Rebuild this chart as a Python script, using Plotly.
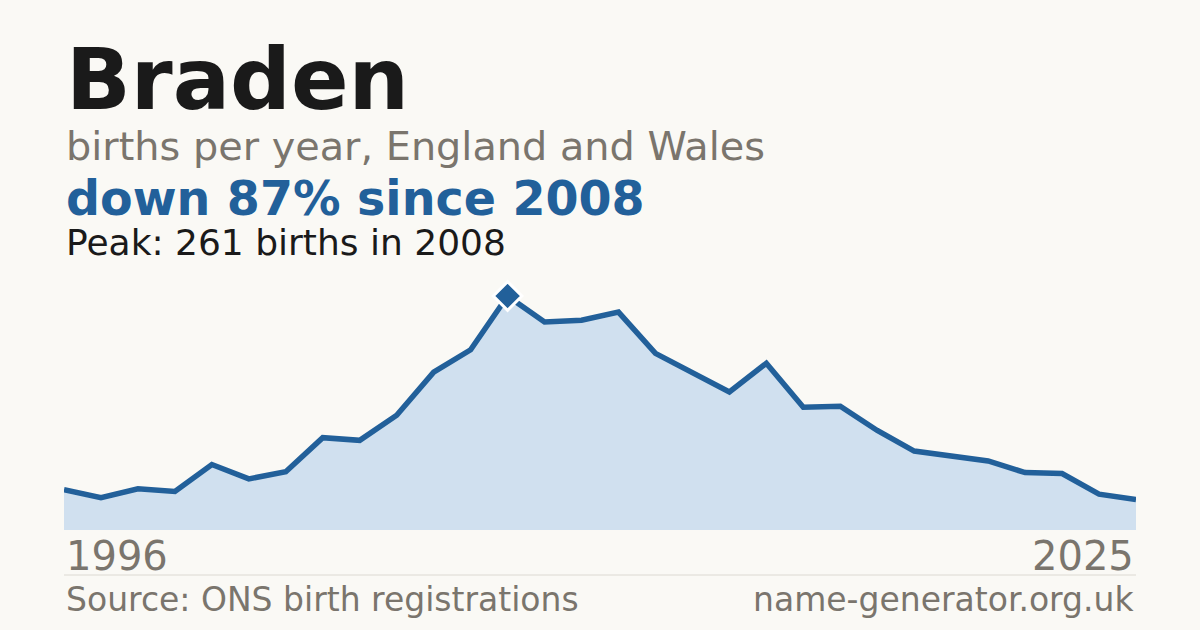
import plotly.graph_objects as go

#data
years = list(range(1996, 2026))
births = [45, 36, 46, 43, 73, 57, 65, 103, 100, 128, 176, 201, 261, 232, 234,
          243, 197, 176, 154, 186, 137, 138, 111, 88, 83, 77, 64, 63, 40, 34]
peak_year = 2008
peak_births = 261

name = 'Braden'
subtitle = 'births per year, England and Wales'
change_text = 'down 87% since 2008'
peak_text = 'Peak: 261 births in 2008'
source_text = 'Source: ONS birth registrations'
site_text = 'name-generator.org.uk'

bg = '#faf9f5'
blue = '#22609a'
grey = '#7a756d'
font = 'DejaVu Sans'

W, H = 1200, 630
top, bottom = 270, 100   #plot area in pixels: y 270..530

def py(pix):
    #pixel row -> paper coordinate
    return (H - bottom - pix) / (H - top - bottom)

fig = go.Figure()
fig.add_trace(go.Scatter(x=years, y=births, mode='lines',
                         line=dict(color=blue, width=5.5),
                         fill='tozeroy', fillcolor='#d0e0ef',
                         hoverinfo='skip'))
fig.add_trace(go.Scatter(x=[peak_year], y=[peak_births], mode='markers',
                         marker=dict(symbol='diamond', size=22, color=blue,
                                     line=dict(color='white', width=3)),
                         hoverinfo='skip'))

ann = []
ann.append(dict(text='<b>' + name + '</b>', x=0, y=py(80), font=dict(size=85, color='#1a1a1a')))
ann.append(dict(text=subtitle, x=0, y=py(146), font=dict(size=39.8, color=grey)))
ann.append(dict(text='<b>' + change_text + '</b>', x=0, y=py(198), font=dict(size=47.5, color=blue)))
ann.append(dict(text=peak_text, x=0, y=py(242), font=dict(size=36, color='#1a1a1a')))
ann.append(dict(text=source_text, x=0, y=py(599), font=dict(size=33, color=grey)))
ann.append(dict(text=site_text, x=1, xanchor='right', y=py(599), font=dict(size=33, color=grey)))
ann.append(dict(text=str(years[0]), x=0, y=py(556), font=dict(size=40, color=grey)))
ann.append(dict(text=str(years[-1]), x=1, xanchor='right', y=py(556), font=dict(size=40, color=grey)))
for a in ann:
    a.setdefault('xanchor', 'left')
    a.update(xref='paper', yref='paper', yanchor='middle', showarrow=False)

fig.update_layout(
    width=W, height=H,
    paper_bgcolor=bg, plot_bgcolor=bg,
    margin=dict(l=64, r=64, t=top, b=bottom),
    showlegend=False,
    font=dict(family=font),
    annotations=ann,
    shapes=[dict(type='line', xref='paper', yref='paper', x0=0, x1=1,
                 y0=py(575), y1=py(575), line=dict(color='#dcd9d2', width=1))],
    xaxis=dict(range=[years[0], years[-1]], visible=False, fixedrange=True),
    yaxis=dict(range=[0, 290], visible=False, fixedrange=True),
)

#page has a default 8px body margin, drop it so the chart fills the window
fig.write_html('out.html', config={'displayModeBar': False},
               post_script="document.body.style.margin='0';document.body.style.background='" + bg + "';")
